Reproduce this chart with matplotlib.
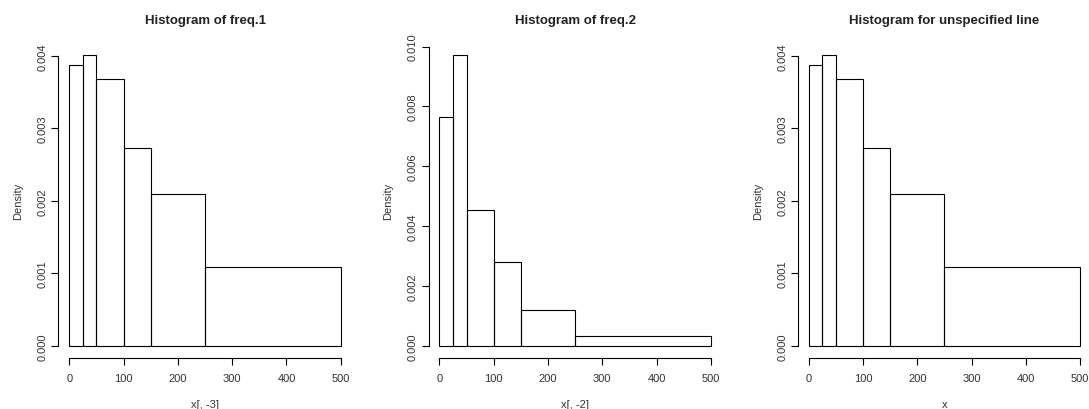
import numpy as np
import matplotlib
matplotlib.use("Agg")
import matplotlib.pyplot as plt
from matplotlib.ticker import FormatStrFormatter

plt.rcParams['font.family'] = ['Liberation Sans', 'DejaVu Sans']

# bin edges shared by all three histograms
breaks = [0, 25, 50, 100, 150, 250, 500]

# densities
dens_freq1 = [0.003876, 0.004014, 0.003688, 0.002725, 0.002096, 0.001092]
dens_freq2 = [0.007656, 0.009722, 0.004556, 0.002800, 0.001189, 0.000322]
dens_unspec = [0.003876, 0.004014, 0.003688, 0.002725, 0.002096, 0.001092]

titles = ["Histogram of freq.1", "Histogram of freq.2", "Histogram for unspecified line"]
xlabels = ["x[, -3]", "x[, -2]", "x"]
yticks_list = [np.arange(0, 0.0041, 0.001), np.arange(0, 0.0101, 0.002), np.arange(0, 0.0041, 0.001)]
xticks = [0, 100, 200, 300, 400, 500]

W, H = 1089, 410
fig = plt.figure(figsize=(W / 100, H / 100), dpi=100)

# plot region left edge (px) for each panel; R style layout
lefts = [58.4, 428.5, 797.8]
reg_w = 293.2
reg_top, reg_bot = 44.3, 358.6
reg_h = reg_bot - reg_top

txt = '#333333'
datasets = [dens_freq1, dens_freq2, dens_unspec]

for i in range(3):
    ax = fig.add_axes([lefts[i] / W, (H - reg_bot) / H, reg_w / W, reg_h / H])
    dens = datasets[i]
    edges = np.array(breaks)
    widths = np.diff(edges)
    ax.bar(edges[:-1], dens, width=widths, align='edge', fill=False,
           edgecolor='black', linewidth=0.8)

    ymax = max(dens)
    ax.set_xlim(-20, 520)
    ax.set_ylim(-0.04 * ymax, 1.04 * ymax)

    for s in ['top', 'right']:
        ax.spines[s].set_visible(False)
    ax.spines['left'].set_bounds(0, yticks_list[i][-1])
    ax.spines['bottom'].set_bounds(0, 500)
    ax.spines['left'].set_linewidth(0.8)
    ax.spines['bottom'].set_linewidth(0.8)

    ax.set_xticks(xticks)
    ax.set_yticks(yticks_list[i])
    ax.yaxis.set_major_formatter(FormatStrFormatter('%.3f'))
    ax.tick_params(axis='x', length=5, width=0.8, pad=6, labelsize=8, labelcolor=txt)
    ax.tick_params(axis='y', length=5, width=0.8, pad=2.5, labelsize=8, labelcolor=txt)
    for lab in ax.get_yticklabels():
        lab.set_rotation(90)
        lab.set_va('center')

    ax.text(0.5, 1.075, titles[i], transform=ax.transAxes, ha='center', va='center',
            fontsize=9.5, fontweight='bold', color='#222222')
    ax.text(0.5, -0.148, xlabels[i], transform=ax.transAxes, ha='center', va='center',
            fontsize=8, color=txt)
    ax.text(-0.137, 0.5, "Density", transform=ax.transAxes, ha='center', va='center',
            rotation=90, fontsize=8, color=txt)

fig.savefig("out.png", dpi=100)
